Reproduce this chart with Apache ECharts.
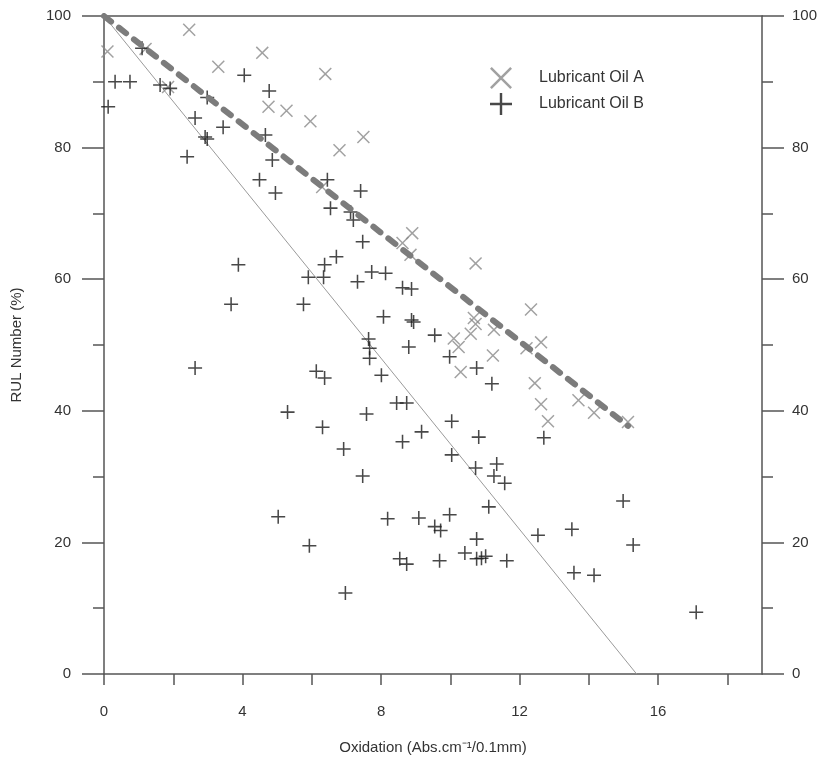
<!DOCTYPE html>
<html>
<head>
<meta charset="utf-8">
<title>RUL vs Oxidation</title>
<script src="https://cdn.jsdelivr.net/npm/echarts@6/dist/echarts.min.js"></script>
<style>
  html, body { margin: 0; padding: 0; background: #fff; }
  #main { width: 827px; height: 764px; }
</style>
</head>
<body>
<div id="main"></div>
<script>
// oil A samples (x = oxidation, y = RUL %)
var oilA = [
    [0.1, 94.6], [1.2, 95.0], [1.85, 89.2], [2.46, 97.9], [3.3, 92.3], [4.57, 94.4],
    [4.75, 86.2], [5.27, 85.6], [5.96, 84.0], [6.3, 74.0], [6.39, 91.2], [6.8, 79.6],
    [7.49, 81.6], [8.62, 65.5], [8.85, 63.7], [8.9, 67.0], [10.1, 51.0], [10.24, 49.7],
    [10.3, 45.9], [10.59, 51.7], [10.68, 54.1], [10.73, 53.2], [10.73, 62.4], [11.23, 48.4],
    [11.26, 52.3], [12.2, 49.5], [12.33, 55.4], [12.44, 44.2], [12.62, 50.4], [12.62, 41.0],
    [12.82, 38.4], [13.7, 41.6], [14.15, 39.7], [15.13, 38.3]
];
// oil B samples
var oilB = [
    [0.12, 86.2], [0.32, 90.0], [0.75, 90.0], [1.1, 95.1], [1.62, 89.5], [1.91, 89.0],
    [2.4, 78.6], [2.63, 84.5], [2.63, 46.5], [2.92, 81.6], [2.98, 81.3], [2.98, 87.6],
    [3.44, 83.1], [3.67, 56.2], [3.88, 62.2], [4.05, 91.0], [4.49, 75.1], [4.66, 81.9],
    [4.77, 88.6], [4.86, 78.1], [4.95, 73.1], [5.03, 23.9], [5.3, 39.8], [5.76, 56.2],
    [5.9, 60.3], [5.93, 19.5], [6.13, 46.0], [6.31, 37.5], [6.34, 60.3], [6.37, 45.0],
    [6.37, 62.2], [6.45, 75.1], [6.54, 70.8], [6.71, 63.4], [6.92, 34.2], [6.97, 12.3],
    [7.12, 70.2], [7.2, 69.0], [7.41, 73.4], [7.32, 59.6], [7.47, 65.7], [7.47, 30.1],
    [7.58, 39.5], [7.64, 50.9], [7.67, 49.5], [7.67, 48.0], [7.73, 61.1], [8.01, 45.4],
    [8.07, 54.3], [8.13, 60.9], [8.19, 23.6], [8.45, 41.2], [8.54, 17.5], [8.62, 58.7],
    [8.62, 35.3], [8.74, 41.2], [8.74, 16.7], [8.8, 49.7], [8.88, 58.5], [8.88, 53.8],
    [8.94, 53.5], [9.09, 23.7], [9.17, 36.8], [9.55, 51.5], [9.55, 22.4], [9.69, 17.2],
    [9.72, 21.8], [9.98, 48.2], [9.98, 24.2], [10.04, 38.4], [10.04, 33.3], [10.42, 18.4],
    [10.73, 31.3], [10.76, 46.5], [10.76, 20.5], [10.76, 17.5], [10.9, 17.6], [10.82, 36.0],
    [11.02, 17.9], [11.11, 25.4], [11.2, 44.1], [11.26, 30.1], [11.34, 31.9], [11.57, 29.0],
    [11.63, 17.2], [12.53, 21.1], [12.7, 35.9], [13.51, 22.0], [13.57, 15.4], [14.15, 15.0],
    [14.99, 26.3], [15.28, 19.6], [17.1, 9.4]
];
// trend lines (end points)
var fitA = [[0, 100], [15.13, 37.7]];
var fitB = [[0, 100], [15.38, 0]];

var xTicks = [0, 2, 4, 6, 8, 10, 12, 14, 16, 18];
var xLabels = [0, 4, 8, 12, 16];

var plusPath = 'path://M4.45,0h1.1v10h-1.1zM0,4.45h10v1.1h-10z';
var crossPath = 'path://M0,0.8L0.8,0L10,9.2L9.2,10ZM9.2,0L10,0.8L0.8,10L0,9.2Z';

var axisColor = '#555';
var font = 'Liberation Sans, Arial, sans-serif';

var chart = echarts.init(document.getElementById('main'));

var yAxisBase = function (pos, margin) {
    return {
        type: 'value',
        position: pos,
        min: 0,
        max: 100,
        interval: 20,
        axisLine: { show: true, onZero: false, lineStyle: { color: axisColor, width: 1.5 } },
        axisTick: { show: true, inside: false, length: 22, lineStyle: { color: axisColor, width: 1.5 } },
        minorTick: { show: true, splitNumber: 2, length: 11, lineStyle: { color: axisColor, width: 1.5 } },
        axisLabel: { margin: margin, fontSize: 15, color: '#333', fontFamily: font },
        splitLine: { show: false }
    };
};

var yLeft = yAxisBase('left', 33);
yLeft.name = 'RUL Number (%)';
yLeft.nameLocation = 'middle';
yLeft.nameGap = 80;
yLeft.nameTextStyle = { fontSize: 15, color: '#333', fontFamily: font };
var yRight = yAxisBase('right', 30);

var option = {
    backgroundColor: '#fff',
    animation: false,
    grid: { left: 104, right: 65, top: 16, bottom: 90 },
    legend: {
        orient: 'vertical',
        left: 485,
        top: 62,
        itemWidth: 22,
        itemHeight: 22,
        itemGap: 4,
        textStyle: { fontSize: 16, color: '#333', fontFamily: font, padding: [0, 0, 0, 22] },
        data: ['Lubricant Oil A', 'Lubricant Oil B']
    },
    xAxis: [{
        type: 'value',
        position: 'bottom',
        min: 0,
        max: 19,
        name: 'Oxidation (Abs.cm\u207B\u00B9/0.1mm)',
        nameLocation: 'middle',
        nameGap: 66,
        nameTextStyle: { fontSize: 15, color: '#333', fontFamily: font },
        axisLine: { show: true, onZero: false, lineStyle: { color: axisColor, width: 1.5 } },
        axisTick: { show: true, length: 11, customValues: xTicks, lineStyle: { color: axisColor, width: 1.5 } },
        axisLabel: { margin: 30, fontSize: 15, color: '#333', fontFamily: font, customValues: xLabels },
        splitLine: { show: false }
    }, {
        type: 'value',
        position: 'top',
        min: 0,
        max: 19,
        axisLine: { show: true, onZero: false, lineStyle: { color: axisColor, width: 1.5 } },
        axisTick: { show: false },
        axisLabel: { show: false },
        splitLine: { show: false }
    }],
    yAxis: [yLeft, yRight],
    series: [
        {
            name: 'Lubricant Oil A',
            type: 'scatter',
            symbol: crossPath,
            symbolSize: 13,
            itemStyle: { color: '#8a8a8a' },
            data: oilA,
            z: 2
        },
        {
            name: 'Lubricant Oil B',
            type: 'scatter',
            symbol: plusPath,
            symbolSize: 14,
            itemStyle: { color: '#1a1a1a' },
            data: oilB,
            z: 2
        },
        {
            name: 'fitA',
            type: 'line',
            data: fitA,
            symbol: 'none',
            lineStyle: { color: '#7c7c7c', width: 6, type: [9, 10], cap: 'round' },
            z: 3
        },
        {
            name: 'fitB',
            type: 'line',
            data: fitB,
            symbol: 'none',
            lineStyle: { color: '#9a9a9a', width: 1 },
            z: 1
        }
    ]
};

chart.setOption(option);
</script>
</body>
</html>
